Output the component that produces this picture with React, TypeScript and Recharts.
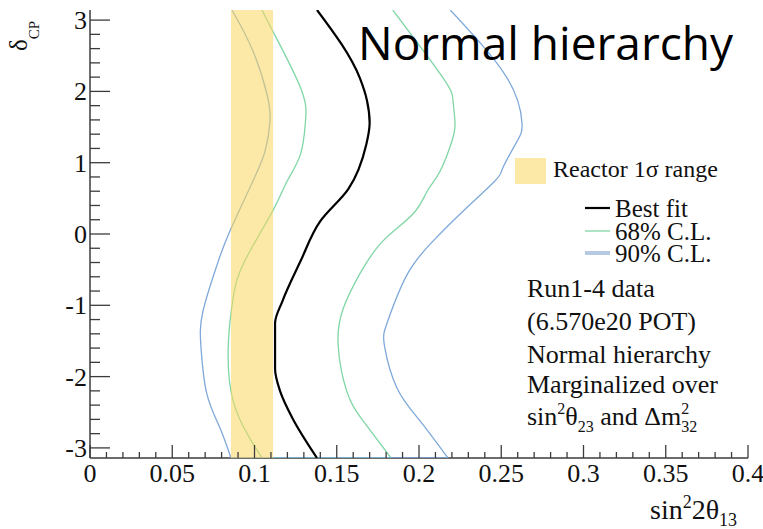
import React from "react";
import { ScatterChart, Scatter, XAxis, YAxis, ReferenceArea } from "recharts";

const W = 763;
const H = 529;
const PI = Math.PI;

// all contour edges read from top (delta = pi) to bottom (delta = -pi)
const bestDelta = [PI, 2.19, 1.87, 1.56, 1.26, 0.63, 0.18, -0.38, -0.94, -1.25, -1.89, -2.2, -2.58, -PI];
const bestSin = [0.138, 0.164, 0.1684, 0.17, 0.168, 0.157, 0.14, 0.128, 0.117, 0.1125, 0.1125, 0.1155, 0.123, 0.138];

// 68% C.L.
const cl68LeftDelta = [PI, 2.85, 2.05, 1.58, 1.12, 0.74, 0.32, -0.38, -0.9, -1.6, -2.34, -2.86, -PI];
const cl68LeftSin = [0.1046, 0.111, 0.128, 0.131, 0.128, 0.1198, 0.111, 0.094, 0.087, 0.084, 0.087, 0.097, 0.1046];
const cl68RightDelta = [PI, 2.19, 1.87, 1.56, 1.3, 0.88, 0.6, 0.28, -0.1, -0.56, -1.04, -1.54, -2.2, -2.62, -PI];
const cl68RightSin = [0.184, 0.2146, 0.2207, 0.2219, 0.22, 0.2128, 0.205, 0.1963, 0.178, 0.164, 0.154, 0.1508, 0.156, 0.166, 0.183];

// 90% C.L.
const cl90LeftDelta = [PI, 2.57, 1.96, 1.58, 1.16, 0.74, 0.04, -0.38, -1.08, -1.6, -2.24, -2.72, -PI];
const cl90LeftSin = [0.0863, 0.099, 0.1076, 0.1094, 0.1064, 0.099, 0.085, 0.078, 0.0687, 0.0675, 0.071, 0.079, 0.0857];
const cl90RightDelta = [PI, 2.19, 1.56, 1.3, 0.93, 0.74, 0.28, -0.1, -0.56, -1.22, -1.57, -2.16, -2.62, -PI];
const cl90RightSin = [0.219, 0.2535, 0.2626, 0.2596, 0.251, 0.246, 0.225, 0.2085, 0.193, 0.181, 0.179, 0.1866, 0.2006, 0.2176];

const reactorRange = [0.0857, 0.1113];

const xMajor = [0, 0.05, 0.1, 0.15, 0.2, 0.25, 0.3, 0.35, 0.4];
const yMajor = [-3, -2, -1, 0, 1, 2, 3];

// minor ticks: 5 per major step on x, 5 per unit on y
const xTicks: number[] = [];
for (let i = 0; i <= 40; i++) xTicks.push(i / 100);
const yTicks: number[] = [];
for (let i = -15; i <= 15; i++) yTicks.push(i / 5);

const pts = (xs: number[], ys: number[]) => xs.map((x, i) => ({ x, y: ys[i] }));

const bestFit = pts(bestSin, bestDelta);
const cl68Left = pts(cl68LeftSin, cl68LeftDelta);
const cl68Right = pts(cl68RightSin, cl68RightDelta);
const cl90Left = pts(cl90LeftSin, cl90LeftDelta);
const cl90Right = pts(cl90RightSin, cl90RightDelta);
// contours close along the lower edge of the frame
const cl68Bottom = [cl68Left[cl68Left.length - 1], cl68Right[cl68Right.length - 1]];
const cl90Bottom = [cl90Left[cl90Left.length - 1], cl90Right[cl90Right.length - 1]];

const AXIS = "#3c3c3c";
const GREEN = "#7fd6a6";
const BLUE = "#7fa9da";
const SERIF = "'Liberation Serif', 'Times New Roman', serif";

const isMajorX = (v: number) => xMajor.some((m) => Math.abs(m - v) < 1e-6);
const isMajorY = (v: number) => yMajor.some((m) => Math.abs(m - v) < 1e-6);
const fmt = (v: number) => String(Number(v.toFixed(2)));

const BottomTick = (p: any) => {
  const major = isMajorX(p.payload.value);
  return (
    <g>
      <line x1={p.x} x2={p.x} y1={p.y} y2={p.y - (major ? 13 : 6)} stroke={AXIS} strokeWidth={1.3} />
      {major && (
        <text x={p.x} y={p.y + 24} textAnchor="middle" fontFamily={SERIF} fontSize={26} fill="#111">
          {fmt(p.payload.value)}
        </text>
      )}
    </g>
  );
};

const TopTick = (p: any) => {
  const major = isMajorX(p.payload.value);
  return <line x1={p.x} x2={p.x} y1={p.y} y2={p.y + (major ? 13 : 6)} stroke={AXIS} strokeWidth={1.3} />;
};

const LeftTick = (p: any) => {
  const major = isMajorY(p.payload.value);
  return (
    <g>
      <line x1={p.x} x2={p.x + (major ? 20 : 10)} y1={p.y} y2={p.y} stroke={AXIS} strokeWidth={1.3} />
      {major && (
        <text x={p.x - 3} y={p.y + 9} textAnchor="end" fontFamily={SERIF} fontSize={26} fill="#111">
          {fmt(p.payload.value)}
        </text>
      )}
    </g>
  );
};

const RightTick = (p: any) => {
  const major = isMajorY(p.payload.value);
  return <line x1={p.x} x2={p.x - (major ? 20 : 10)} y1={p.y} y2={p.y} stroke={AXIS} strokeWidth={1.3} />;
};

const noShape = () => <g />;

export default function App() {
  const edge = (data: { x: number; y: number }[], stroke: string, width: number, key: string, curve: any = "natural") => (
    <Scatter
      key={key}
      data={data}
      line={{ stroke, strokeWidth: width }}
      lineJointType={curve}
      shape={noShape}
      isAnimationActive={false}
    />
  );
  return (
    <div style={{ position: "absolute", left: 0, top: 0, width: W, height: H, background: "#fff" }}>
      <ScatterChart width={W} height={H} margin={{ top: 10, right: 15, bottom: 0, left: 0 }}>
        <XAxis
          type="number"
          dataKey="x"
          domain={[0, 0.4]}
          allowDataOverflow
          ticks={xTicks}
          interval={0}
          height={71}
          tickSize={0}
          tickMargin={0}
          tickLine={false}
          axisLine={{ stroke: AXIS, strokeWidth: 1.5 }}
          tick={BottomTick}
        />
        <XAxis
          xAxisId="top"
          orientation="top"
          type="number"
          dataKey="x"
          domain={[0, 0.4]}
          allowDataOverflow
          ticks={xTicks}
          interval={0}
          height={0}
          tickSize={0}
          tickMargin={0}
          tickLine={false}
          axisLine={{ stroke: AXIS, strokeWidth: 1.5 }}
          tick={TopTick}
        />
        <YAxis
          type="number"
          dataKey="y"
          domain={[-PI, PI]}
          allowDataOverflow
          ticks={yTicks}
          interval={0}
          width={90}
          tickSize={0}
          tickMargin={0}
          tickLine={false}
          axisLine={{ stroke: AXIS, strokeWidth: 1.5 }}
          tick={LeftTick}
        />
        <YAxis
          yAxisId="right"
          orientation="right"
          type="number"
          dataKey="y"
          domain={[-PI, PI]}
          allowDataOverflow
          ticks={yTicks}
          interval={0}
          width={0}
          tickSize={0}
          tickMargin={0}
          tickLine={false}
          axisLine={{ stroke: AXIS, strokeWidth: 1.5 }}
          tick={RightTick}
        />
        {edge(cl68Left, GREEN, 1.3, "g1")}
        {edge(cl68Right, GREEN, 1.3, "g2")}
        {edge(cl68Bottom, GREEN, 1.3, "g3", "linear")}
        {edge(cl90Left, BLUE, 1.3, "b1")}
        {edge(cl90Right, BLUE, 1.3, "b2")}
        {edge(cl90Bottom, BLUE, 1.5, "b3", "linear")}
        {edge(bestFit, "#000", 2.2, "k", "monotoneY")}
        <ReferenceArea
          x1={reactorRange[0]}
          x2={reactorRange[1]}
          fill="#fbd75f"
          fillOpacity={0.55}
          stroke="none"
          {...({ zIndex: 600 } as any)}
        />
      </ScatterChart>

      <svg width={W} height={H} style={{ position: "absolute", left: 0, top: 0, pointerEvents: "none" }}>
        <text x={358} y={60} fontFamily="'Open Sans', 'Noto Sans', sans-serif" fontSize={46} textLength={375} lengthAdjust="spacingAndGlyphs" fill="#000">
          Normal hierarchy
        </text>

        {/* legend */}
        <rect x={515} y={158} width={31} height={26} fill="#fde9a7" />
        <text x={553} y={177} fontFamily={SERIF} fontSize={24} fill="#111">Reactor 1σ range</text>
        <line x1={585} x2={610} y1={208} y2={208} stroke="#000" strokeWidth={2.2} />
        <text x={615} y={217} fontFamily={SERIF} fontSize={25} fill="#111">Best fit</text>
        <line x1={585} x2={610} y1={231} y2={231} stroke={GREEN} strokeWidth={1.3} />
        <text x={615} y={240} fontFamily={SERIF} fontSize={25} fill="#111">68% C.L.</text>
        <line x1={585} x2={610} y1={253} y2={253} stroke="#b6c9e3" strokeWidth={4} />
        <text x={615} y={262} fontFamily={SERIF} fontSize={25} fill="#111">90% C.L.</text>

        {/* info block */}
        <g fontFamily={SERIF} fontSize={26} fill="#111">
          <text x={527} y={297}>Run1-4 data</text>
          <text x={527} y={330}>(6.570e20 POT)</text>
          <text x={527} y={363}>Normal hierarchy</text>
          <text x={527} y={393}>Marginalized over</text>
          <text x={527} y={425}>
            sin<tspan fontSize={16} dy={-11}>2</tspan>
            <tspan dy={11}>θ</tspan>
            <tspan fontSize={16} dy={7}>23</tspan>
            <tspan dy={-7}> and Δm</tspan>
            <tspan fontSize={16} dy={-11}>2</tspan>
            <tspan fontSize={16} dx={-8} dy={18}>32</tspan>
          </text>
        </g>

        {/* axis titles */}
        <text transform="translate(27,51) rotate(-90)" fontFamily={SERIF} fontSize={25} fill="#111">
          δ<tspan fontSize={15} dy={12}>CP</tspan>
        </text>
        <text x={650} y={519} fontFamily={SERIF} fontSize={28} fill="#111">
          sin<tspan fontSize={18} dy={-11}>2</tspan>
          <tspan dy={11}>2θ</tspan>
          <tspan fontSize={18} dy={7}>13</tspan>
        </text>
      </svg>
    </div>
  );
}
